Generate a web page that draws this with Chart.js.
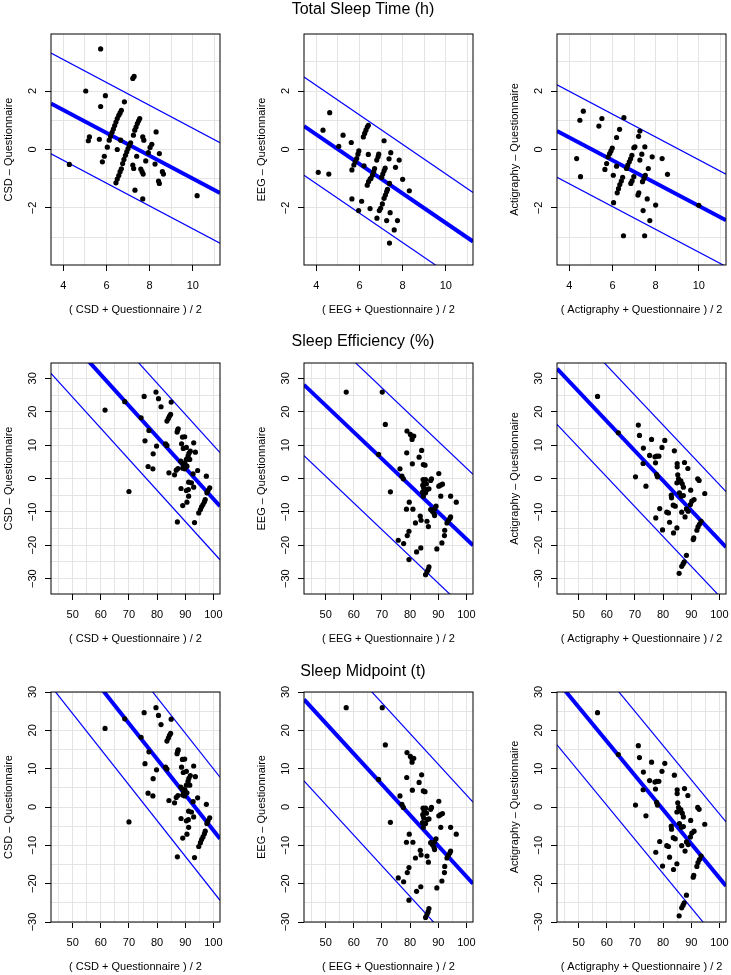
<!DOCTYPE html>
<html>
<head>
<meta charset="utf-8">
<script src="https://cdn.jsdelivr.net/npm/chart.js@4.4.1/dist/chart.umd.min.js"></script>
<style>
  html, body { margin: 0; padding: 0; background: #fff; overflow: hidden; }
  #page { position: relative; width: 731px; height: 975px; }
  #page canvas { position: absolute; }
</style>
</head>
<body>
<div id="page"></div>
<script>
const sectionTitles = ['Total Sleep Time (h)', 'Sleep Efficiency (%)', 'Sleep Midpoint (t)'];
const methods = ['CSD', 'EEG', 'Actigraphy'];

// Total sleep time: mean of the two methods (x) and difference (y)
const tstCsdMean = [5.73,5.04,5.95,5.73,6.83,7.22,7.28,5.21,5.16,5.67,6.04,5.90,5.81,6.50,4.28,
  6.13,6.19,6.26,6.32,6.38, 6.44,6.50,6.57,6.63,6.69, 6.66,
  6.75,6.81,6.88,6.94,7.00,7.06,7.12, 6.44,6.50,6.57,6.63,6.69, 7.25,
  7.31,7.37,7.43,7.49,7.54,
  7.68,7.73,7.40,7.22,7.26,7.59,7.65,7.70,7.32,7.68,7.82,7.94,8.02,8.10,8.30,8.25,8.45,8.41,8.45,8.59,8.64,10.2];
const tstCsdDiff = [3.44,2.00,1.84,1.47,1.63,2.43,2.50,0.43,0.30,0.35,0.08,-0.23,-0.42,0.00,-0.51,
  0.32,0.45,0.59,0.70,0.82, 0.94,1.06,1.17,1.25,1.34, 0.32,
  -0.48,-0.34,-0.20,-0.08,0.03,0.14,0.23, -1.14,-1.01,-0.89,-0.76,-0.66, 0.49,
  0.66,0.77,0.89,0.98,1.06,
  0.43,0.32,-0.23,-0.53,-0.65,-0.67,-0.76,-0.84,-1.39,-1.69,-0.39,-0.11,0.07,0.18,0.60,-0.50,-0.14,-1.08,-1.16,-0.76,-0.84,-1.58];

const tstEegMean = [4.62,4.31,5.24,5.04,5.62,4.09,4.58, 6.18,6.24,6.30,6.36,6.41, 7.14,7.45,
  5.74,5.80,5.87,5.93,5.97, 5.65,6.21,6.41, 6.80,6.86,6.89, 7.37,7.84,7.67,
  6.53,6.60,6.66,6.70, 6.36,6.42,6.49, 7.03,7.08,7.14,7.19, 7.39,8.0,8.31,
  7.14,7.20,7.26,7.30, 7.06,6.92,6.98,
  5.65,6.10,5.96,6.49,6.81,7.26,7.76,7.42,7.61,7.39];
const tstEegDiff = [1.26,0.66,0.49,0.11,0.24,-0.78,-0.84, 0.43,0.55,0.66,0.77,0.83, 0.30,-0.11,
  -0.53,-0.42,-0.31,-0.16,-0.05, -0.70,-0.56,-0.17, -0.36,-0.25,-0.16, -0.32,-0.36,-0.61,
  -0.99,-0.88,-0.76,-0.65, -1.22,-1.10,-1.01, -0.95,-0.84,-0.73,-0.64, -1.16,-1.02,-1.41,
  -1.67,-1.56,-1.44,-1.36, -1.86,-2.09,-2.01,
  -1.69,-1.77,-2.09,-2.02,-2.35,-2.43,-2.43,-2.16,-2.75,-3.2];

const tstActMean = [4.65,4.49,5.51,5.37,6.53,6.33,6.19,7.27,7.21,4.34,4.52,
  5.80,5.87,5.93,5.99, 5.73,5.65,6.19,6.04, 6.65,6.71,6.78,6.84,6.90,
  6.99,7.04,7.36,7.27,7.50,7.84,8.30,7.66,8.55,
  6.22,6.28,6.34,6.41,6.47, 6.85,6.91,6.99, 7.39,7.46,7.52,
  7.18,7.22,7.61,8.0,7.42,7.73,6.05,6.51,7.49,10.0];
const tstActDiff = [1.31,1.0,1.06,0.80,1.09,0.69,0.41,0.63,0.45,-0.31,-0.93,
  -0.25,-0.14,-0.05,0.05, -0.48,-0.68,-0.57,-0.88, -0.65,-0.53,-0.42,-0.32,-0.20,
  0.06,0.09,-0.16,-0.36,0.09,-0.25,-0.31,-0.65,-0.85,
  -1.48,-1.34,-1.20,-1.08,-0.95, -1.16,-1.07,-0.93, -1.10,-0.99,-0.88,
  -1.56,-1.48,-1.69,-1.90,-2.09,-2.43,-1.82,-2.95,-2.95,-1.91];

// Sleep efficiency (also shown for sleep midpoint)
const seCsdMean = [61.5,68.5,75.4,79.6,80.5,81.4,85.0,74.3, 83.5,84.0,84.4,84.8,
  77.1,75.7,79.8,78.6,76.8,78.5,70.0,83.0,83.5, 87.1,87.3,87.5,
  84.2,86.2,86.8,87.4,89.0,89.8,88.7,89.3,93.0,90.4,
  88.4,89.0,89.4,89.9,90.4,91.0,91.3,91.8,91.6,90.6,89.8,89.1,
  93.6,92.8,91.2,92.2,94.4,97.5,93.0,91.1,90.4,88.5,91.2,90.6,89.1,87.2,93.3,94.8,
  95.4,95.8,96.3,96.8,97.1, 97.7,98.1,98.7];
const seCsdDiff = [20.5,23.0,24.6,25.9,23.9,21.5,22.9,18.2, 17.2,18.0,18.7,19.2,
  14.4,11.3,9.7,7.4,3.6,2.9,-3.9,10.4,9.9, 13.9,14.5,14.9,
  1.7,1.1,2.5,3.0,12.4,12.5,10.4,9.0,10.7,9.3,
  5.2,4.7,3.7,4.5,5.7,6.7,7.5,8.2,5.7,3.7,2.9,3.1,
  7.9,1.4,-1.1,-1.3,2.4,0.7,-2.6,-3.3,-3.6,-3.0,-5.3,-7.1,-8.1,-13.0,-13.2,-10.3,
  -9.3,-8.5,-7.8,-7.0,-6.3, -4.3,-3.6,-2.8];

const seEegMean = [57.3,70.1,71.2,68.8,78.9,80.1,80.7,81.3,80.7,78.8,80.8,83.2,84.1,84.7,85.3,76.4,77.1,77.6,73.0,
  84.6,85.0,84.5,84.8,84.4,84.7,85.5,85.8,86.0,86.7,87.3,87.6,85.5,
  90.2,90.2,90.8,91.5,90.9,94.4,96.4,79.7,78.7,81.0,83.6,83.9,81.9,86.0,86.5,
  87.3,87.9,88.5,89.2,88.7,88.7,92.2,91.3, 93.1,93.6,94.1,94.4,
  92.3,79.6,79.0,75.8,77.7,79.6,82.3,83.8,89.5, 85.5,86.0,86.4,86.7];
const seEegDiff = [25.9,25.9,16.2,7.2,14.2,13.2,12.5,12.7,11.7,7.7,4.4,6.4,8.4,4.2,4.0,2.9,0.7,-0.1,-4.0,
  -0.3,-1.1,-2.0,-2.8,-4.1,-5.3,-0.3,-1.6,-3.3,-3.1,-0.6,-0.1,-4.3,
  1.5,-2.3,-2.0,-1.7,-5.3,-5.3,-7.1,-7.1,-9.2,-9.2,-11.3,-12.5,-13.3,-12.8,-14.4,
  -9.3,-9.8,-10.5,-8.3,-9.1,-11.1,-17.1,-19.3, -13.3,-12.6,-12.0,-11.5,
  -15.5,-15.8,-17.1,-18.5,-19.5,-24.3,-22.0,-20.8,-21.1, -28.8,-28.0,-27.3,-26.5];

const seActMean = [56.7,64.1,71.2,71.6,73.0,72.9,70.2,73.9,75.9,80.6,79.6,75.2,77.1,77.7,78.5,77.3,77.7,78.0,84.0,
  85.0,85.0,85.2,85.5,84.9,85.7,86.3,86.8,87.2,87.6,88.8,85.8,86.5,87.2,82.9,83.0,83.6,84.3,
  92.3,92.8,89.8,90.2,91.0,94.8,78.8,81.3,81.9,77.4,82.3,79.8,83.7,84.9,86.6,88.3,88.9,87.8,89.7,
  92.0,92.4,92.9,93.5, 90.7,90.9,88.3,86.6,87.1,87.5,85.7];
const seActDiff = [24.6,13.7,16.0,12.9,9.1,4.5,0.5,-2.3,11.7,11.4,9.3,6.9,6.5,6.7,6.7,4.7,1.2,0.5,8.3,
  4.5,3.5,1.1,-0.1,-1.3,-1.0,-0.7,-1.6,-2.6,4.8,3.0,-4.3,-5.3,-5.1,-5.0,-5.8,-8.0,-8.3,
  -0.1,-0.6,-3.5,-6.8,-6.3,-4.5,-9.0,-10.1,-10.3,-11.8,-13.1,-15.4,-16.3,-14.8,-10.1,-9.1,-9.8,-11.5,-7.8,
  -15.5,-14.5,-13.7,-12.8, -18.3,-17.8,-23.0,-26.3,-25.6,-25.0,-28.4];

// bias line (slope, value at a reference x) and half-width of the limits
const tstSlope = [-0.391, -0.504, -0.39];
const tstBiasAt7 = [0.18, -1.0, -0.76];
const tstLimit = [1.72, 1.68, 1.58];
const seSlope = [-0.93, -0.80, -0.891];
const seBiasAt100 = [-6.1, -18.1, -18.5];
const seLimit = [16.05, 21.25, 16.7];

// axis ranges
const tstX = [3.43, 11.26], tstY = [-3.95, 3.95];
const seX = [42.3, 102.35], seY = [-34.6, 34.6], smY = [-30, 30];

Chart.defaults.font.family = '"Liberation Sans", Arial, Helvetica, sans-serif';
Chart.defaults.color = '#000';

const boxPlugin = {
  id: 'box',
  afterDatasetsDraw(chart) {
    const a = chart.chartArea, ctx = chart.ctx;
    ctx.save();
    ctx.strokeStyle = '#000';
    ctx.lineWidth = 1;
    ctx.strokeRect(a.left, a.top, a.right - a.left, a.bottom - a.top);
    ctx.restore();
  }
};

const rowTop = [0, 329, 658];
const chartH = [231, 231, 230];
const titlePad = [0, 3.2, 4.0];
const page = document.getElementById('page');

function onStep(v, step) {
  return Math.abs(v / step - Math.round(v / step)) < 1e-6;
}
function fmt(v) {
  return String(v).replace('-', '\u2212');
}

function makePanel(row, col, xs, ys, slope, refX, bias, limit, xr, yr, gridStep, labelStep) {
  const canvas = document.createElement('canvas');
  canvas.width = 224;
  canvas.height = 34 + chartH[row] + 52;
  canvas.style.left = (col * 253) + 'px';
  canvas.style.top = rowTop[row] + 'px';
  page.appendChild(canvas);

  const pts = xs.map((x, i) => ({x: x, y: ys[i]}));
  const lineAt = off => xr.map(x => ({x: x, y: bias + off + slope * (x - refX)}));
  const tickColor = c => onStep(c.tick.value, labelStep) ? '#000' : 'rgba(0,0,0,0)';
  const yPad = labelStep === 2 ? 6.2 : 3.2;

  new Chart(canvas, {
    type: 'scatter',
    data: {
      datasets: [
        {data: pts, pointRadius: 2.6, pointBackgroundColor: '#000', pointBorderWidth: 0},
        {type: 'line', data: lineAt(0), borderColor: '#0000ff', borderWidth: 4, pointRadius: 0, fill: false},
        {type: 'line', data: lineAt(limit), borderColor: '#0000ff', borderWidth: 1.2, pointRadius: 0, fill: false},
        {type: 'line', data: lineAt(-limit), borderColor: '#0000ff', borderWidth: 1.2, pointRadius: 0, fill: false}
      ]
    },
    options: {
      responsive: false,
      animation: false,
      events: [],
      layout: {padding: {top: col === 1 ? 0 : 34, right: 4, bottom: 0, left: 0}},
      plugins: {
        legend: {display: false},
        tooltip: {enabled: false},
        title: {
          display: col === 1,
          text: sectionTitles[row],
          font: {size: 16, weight: 'normal'},
          color: '#000',
          padding: {top: titlePad[row], bottom: 34 - 19.2 - titlePad[row]}
        }
      },
      scales: {
        x: {
          type: 'linear', min: xr[0], max: xr[1],
          afterFit: s => { s.height = 52; s.paddingLeft = 0; s.paddingRight = 0; },
          border: {display: false},
          grid: {color: '#e4e4e4', lineWidth: 1, tickLength: 6, tickWidth: 1, tickColor: tickColor},
          ticks: {
            stepSize: gridStep, includeBounds: false, autoSkip: false, maxRotation: 0, minRotation: 0,
            padding: 8, font: {size: 11}, color: '#000',
            callback: v => onStep(v, labelStep) ? fmt(v) : ''
          },
          title: {display: true, text: '( ' + methods[col] + ' + Questionnaire ) / 2',
            font: {size: 11}, color: '#000', padding: {top: 0, bottom: 0.4}}
        },
        y: {
          type: 'linear', min: yr[0], max: yr[1],
          afterFit: s => { s.width = 51; s.paddingTop = 0; s.paddingBottom = 0; },
          border: {display: false},
          grid: {color: '#e4e4e4', lineWidth: 1, tickLength: 6, tickWidth: 1, tickColor: tickColor},
          ticks: {
            stepSize: gridStep, includeBounds: false, autoSkip: false, minRotation: 90, maxRotation: 90,
            crossAlign: 'center', padding: yPad, font: {size: 11}, color: '#000',
            callback: v => onStep(v, labelStep) ? fmt(v) : ''
          },
          title: {display: true, text: methods[col] + ' \u2013 Questionnaire',
            font: {size: 11}, color: '#000', padding: {top: 2, bottom: 0}}
        }
      }
    },
    plugins: [boxPlugin]
  });
}

const tstSets = [[tstCsdMean, tstCsdDiff], [tstEegMean, tstEegDiff], [tstActMean, tstActDiff]];
const seSets = [[seCsdMean, seCsdDiff], [seEegMean, seEegDiff], [seActMean, seActDiff]];

for (let c = 0; c < 3; c++) {
  makePanel(0, c, tstSets[c][0], tstSets[c][1], tstSlope[c], 7, tstBiasAt7[c], tstLimit[c], tstX, tstY, 1, 2);
  makePanel(1, c, seSets[c][0], seSets[c][1], seSlope[c], 100, seBiasAt100[c], seLimit[c], seX, seY, 5, 10);
  makePanel(2, c, seSets[c][0], seSets[c][1], seSlope[c], 100, seBiasAt100[c], seLimit[c], seX, smY, 5, 10);
}
</script>
</body>
</html>
